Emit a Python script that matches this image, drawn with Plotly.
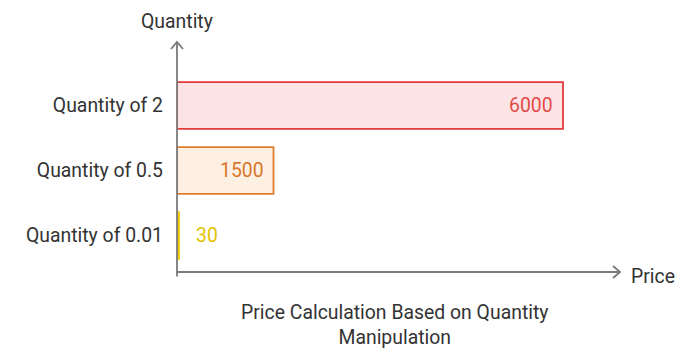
import plotly.graph_objects as go

categories = ["Quantity of 0.01", "Quantity of 0.5", "Quantity of 2"]
prices = [30, 1500, 6000]
labels = ["30", "1500", "6000"]
fill_colors = ["#f3d400", "#fdf0e3", "#fde4e4"]
line_colors = ["#efcf00", "#e07d2c", "#e23b3b"]
text_colors = ["#e3c300", "#d9772b", "#e24b4b"]

FS = 19.4
fig = go.Figure()
fig.add_trace(go.Bar(
    y=categories, x=prices, orientation="h",
    marker=dict(color=fill_colors, line=dict(color=line_colors, width=1.8)),
    width=0.72,
    hoverinfo="skip",
))

annotations = []
for cat, val, lab, col in zip(categories, prices, labels, text_colors):
    inside = val > 600
    annotations.append(dict(
        x=val, y=cat, xref="x", yref="y", text=lab, showarrow=False,
        xanchor="right" if inside else "left",
        xshift=-8 if inside else 15, yanchor="middle",
        font=dict(family="Roboto", size=FS, color=col)))

axis_color = "#7a7a7a"
annotations += [
    dict(text="Quantity", xref="paper", yref="paper", x=0, y=1, yshift=7,
         xanchor="center", yanchor="bottom", showarrow=False,
         font=dict(family="Roboto", size=FS, color="#333333")),
    dict(text="Price", xref="paper", yref="paper", x=1, y=0, xshift=9, yshift=-4,
         xanchor="left", yanchor="middle", showarrow=False,
         font=dict(family="Roboto", size=FS, color="#333333")),
    dict(text="Price Calculation Based on Quantity<br>Manipulation",
         xref="paper", yref="paper", x=0.5, y=0, yshift=-27, xshift=-4,
         xanchor="center", yanchor="top", showarrow=False,
         font=dict(family="Roboto", size=FS, color="#333333")),
]

fig.update_layout(
    width=700, height=359,
    margin=dict(l=169, r=88, t=34, b=95),
    paper_bgcolor="white", plot_bgcolor="white",
    showlegend=False,
    font=dict(family="Roboto", size=FS, color="#333333"),
    xaxis=dict(range=[0, 6886], showgrid=False, zeroline=False, automargin=False,
               showticklabels=False, showline=False, fixedrange=True),
    yaxis=dict(range=[-0.5615, 2.977], showgrid=False, zeroline=False, automargin=False,
               showline=False, ticks="", ticklabelstandoff=13,
               tickfont=dict(family="Roboto", size=FS, color="#333333")),
    shapes=[
        dict(type="line", xref="paper", yref="paper", x0=0, x1=0, y0=-0.02, y1=1,
             line=dict(color=axis_color, width=1.8)),
        dict(type="line", xref="paper", yref="paper", x0=0, x1=1, y0=0, y1=0,
             line=dict(color=axis_color, width=1.8)),
        dict(type="path", xref="paper", yref="paper", xsizemode="pixel", ysizemode="pixel",
             xanchor=0, yanchor=1, path="M -6 -7 L 0 0 L 6 -7",
             line=dict(color=axis_color, width=1.8)),
        dict(type="path", xref="paper", yref="paper", xsizemode="pixel", ysizemode="pixel",
             xanchor=1, yanchor=0, path="M -7 6 L 0 0 L -7 -6",
             line=dict(color=axis_color, width=1.8)),
    ],
    annotations=annotations,
)

fig.write_html("out.html")
